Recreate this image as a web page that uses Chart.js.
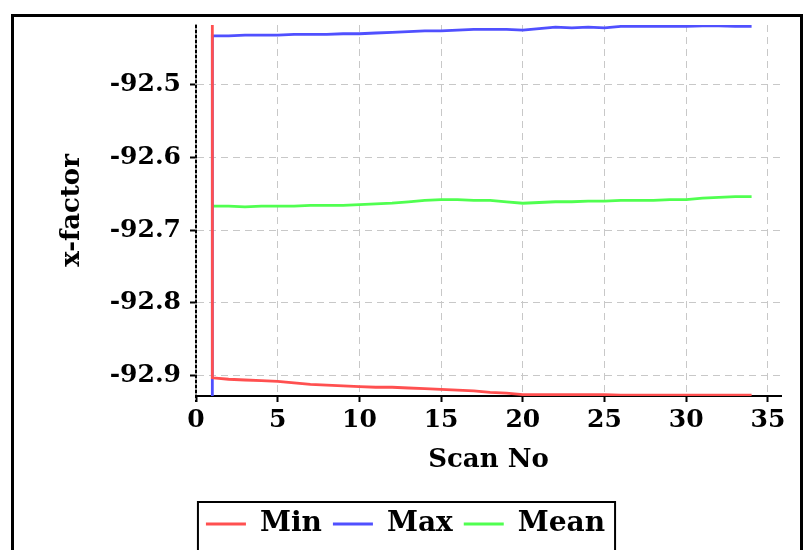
<!DOCTYPE html>
<html>
<head>
<meta charset="utf-8">
<script src="https://cdn.jsdelivr.net/npm/chart.js@4/dist/chart.umd.min.js"></script>
<style>
  html, body { margin: 0; padding: 0; background: #fff; overflow: hidden; }
</style>
</head>
<body>
<canvas id="chart" width="812" height="550"></canvas>
<script>
// Dados do gráfico
const scanNo = [1, 2, 3, 4, 5, 6, 7, 8, 9, 10, 11, 12, 13, 14, 15, 16, 17,
  18, 19, 20, 21, 22, 23, 24, 25, 26, 27, 28, 29, 30, 31, 32, 33, 34];
const minValues = [-92.903, -92.905, -92.906, -92.907, -92.908, -92.910, -92.912,
  -92.913, -92.914, -92.915, -92.916, -92.916, -92.917, -92.918, -92.919, -92.920,
  -92.921, -92.923, -92.924, -92.926, -92.926, -92.926, -92.926, -92.926, -92.926,
  -92.927, -92.927, -92.927, -92.927, -92.927, -92.927, -92.927, -92.927, -92.927];
const maxValues = [-92.433, -92.433, -92.432, -92.432, -92.432, -92.431, -92.431,
  -92.431, -92.430, -92.430, -92.429, -92.428, -92.427, -92.426, -92.426, -92.425,
  -92.424, -92.424, -92.424, -92.425, -92.423, -92.421, -92.422, -92.421, -92.422,
  -92.420, -92.420, -92.420, -92.420, -92.420, -92.419, -92.419, -92.420, -92.420];
const meanValues = [-92.667, -92.667, -92.668, -92.667, -92.667, -92.667, -92.666,
  -92.666, -92.666, -92.665, -92.664, -92.663, -92.661, -92.659, -92.658, -92.658,
  -92.659, -92.659, -92.661, -92.663, -92.662, -92.661, -92.661, -92.660, -92.660,
  -92.659, -92.659, -92.659, -92.658, -92.658, -92.656, -92.655, -92.654, -92.654];
// valores iniciais (antes do primeiro scan), fora da escala
const minStart = -92.0;
const maxStart = -93.5;

const seriesNames = ['Min', 'Max', 'Mean'];
const seriesColors = ['#ff5050', '#5050ff', '#50ff50'];

const yMin = -92.928;
const yMax = -92.418;
const xMin = 0;
const xMax = 35.8;

function pontos(values, start) {
  const pts = scanNo.map((x, i) => ({ x: x, y: values[i] }));
  if (start !== undefined) pts.unshift({ x: scanNo[0], y: start });
  return pts;
}

const serif = '"DejaVu Serif", "Liberation Serif", serif';

// moldura externa, caixa da legenda e linha tracejada em x = 0
const frames = {
  id: 'frames',
  afterDraw(chart) {
    const ctx = chart.ctx;
    const area = chart.chartArea;
    ctx.save();
    ctx.strokeStyle = '#000';
    ctx.lineWidth = 2;
    ctx.setLineDash([3, 2]);
    ctx.beginPath();
    ctx.moveTo(area.left, area.top);
    ctx.lineTo(area.left, area.bottom + 6);
    ctx.stroke();
    ctx.setLineDash([]);
    ctx.lineWidth = 3;
    ctx.strokeRect(12.5, 15.5, 789, 600);
    const boxes = chart.legend.legendHitBoxes;
    if (boxes && boxes.length) {
      const first = boxes[0];
      const last = boxes[boxes.length - 1];
      ctx.lineWidth = 2;
      ctx.strokeRect(first.left - 8, first.top - 8, last.left + last.width - first.left + 18, 200);
    }
    ctx.restore();
  }
};

const chart = new Chart(document.getElementById('chart'), {
  type: 'line',
  data: {
    datasets: [
      { label: seriesNames[0], data: pontos(minValues, minStart), borderColor: seriesColors[0], backgroundColor: seriesColors[0], borderWidth: 2.8 },
      { label: seriesNames[1], data: pontos(maxValues, maxStart), borderColor: seriesColors[1], backgroundColor: seriesColors[1], borderWidth: 2.8 },
      { label: seriesNames[2], data: pontos(meanValues), borderColor: seriesColors[2], backgroundColor: seriesColors[2], borderWidth: 2.8 }
    ]
  },
  options: {
    responsive: false,
    animation: false,
    parsing: false,
    layout: { padding: { left: 30, right: 31, top: 25, bottom: 2 } },
    elements: {
      point: { radius: 0 },
      line: { tension: 0 }
    },
    scales: {
      x: {
        type: 'linear',
        min: xMin,
        max: xMax,
        afterFit(scale) { scale.height = 103; },
        ticks: {
          stepSize: 5,
          includeBounds: false,
          padding: 3,
          color: '#000',
          font: { family: serif, size: 25, weight: 'bold' }
        },
        grid: {
          color: '#c8c8c8',
          tickColor: '#000',
          tickLength: 6,
          tickWidth: 2
        },
        border: { color: '#000', width: 2, dash: [7, 5] },
        title: {
          display: true,
          text: 'Scan No',
          color: '#000',
          font: { family: serif, size: 26, weight: 'bold' },
          padding: { top: 0, bottom: 23 }
        }
      },
      y: {
        min: yMin,
        max: yMax,
        afterFit(scale) { scale.width = 166; },
        ticks: {
          stepSize: 0.1,
          includeBounds: false,
          padding: 9,
          color: '#000',
          font: { family: serif, size: 25, weight: 'bold' },
          callback: v => v.toFixed(1)
        },
        grid: {
          color: '#c8c8c8',
          tickColor: '#000',
          tickLength: 6,
          tickWidth: 2
        },
        border: { color: '#999', width: 2, dash: [7, 5] },
        title: {
          display: true,
          text: 'x-factor',
          color: '#000',
          font: { family: serif, size: 26, weight: 'bold' },
          padding: { top: 27, bottom: 0 }
        }
      }
    },
    plugins: {
      legend: {
        position: 'bottom',
        labels: {
          usePointStyle: true,
          pointStyle: 'line',
          pointStyleWidth: 40,
          boxHeight: 3,
          padding: 11,
          color: '#000',
          font: { family: serif, size: 28, weight: 'bold' }
        }
      },
      tooltip: { enabled: false }
    }
  },
  plugins: [frames]
});
</script>
</body>
</html>
